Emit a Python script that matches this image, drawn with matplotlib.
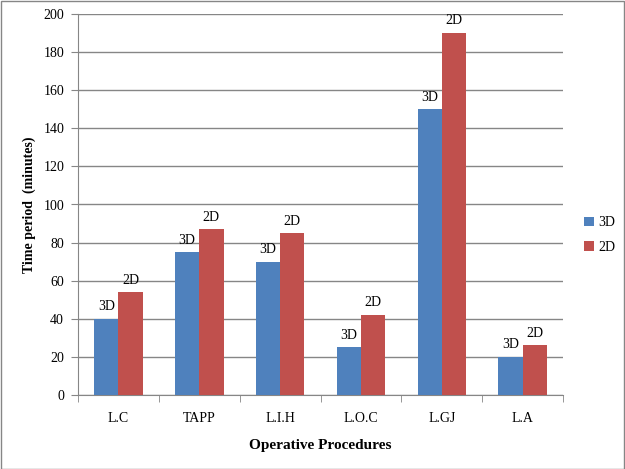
import matplotlib.pyplot as plt
import numpy as np

procedures = ["L.C", "TAPP", "L.I.H", "L.O.C", "L.GJ", "L.A"]
time_3d = [40, 75, 70, 25, 150, 20]
time_2d = [54, 87, 85, 42, 190, 26]
series_names = ["3D", "2D"]

plt.rcParams['font.family'] = ['Liberation Serif', 'DejaVu Serif']

fig = plt.figure(figsize=(6.25, 4.69), dpi=100)
ax = fig.add_axes([78 / 625, 1 - 395 / 469, (563 - 78) / 625, (395 - 14) / 469])

x = np.arange(len(procedures))
w = 0.3
grey = "#868686"
b1 = ax.bar(x - w / 2, time_3d, w, color="#4F81BD", label=series_names[0], zorder=3)
b2 = ax.bar(x + w / 2, time_2d, w, color="#C0504D", label=series_names[1], zorder=3)

for bars, name in ((b1, series_names[0]), (b2, series_names[1])):
    for r in bars:
        ax.annotate(name, (r.get_x() + r.get_width() / 2, r.get_height()),
                    xytext=(0, 4), textcoords="offset points",
                    ha="center", va="bottom", fontsize=10)

ax.set_xlim(-0.5, len(procedures) - 0.5)
ax.set_ylim(0, 200)
ax.set_yticks(range(0, 201, 20))
ax.set_xticks(x)
ax.set_xticklabels(procedures, fontsize=10)
ax.tick_params(axis="x", length=0, pad=12.5)
ax.set_xticks(np.arange(-0.5, len(procedures)), minor=True)
ax.tick_params(axis="x", which="minor", length=5, color=grey, direction="out")
ax.tick_params(axis="y", length=5, color=grey, labelsize=10, pad=5)
ax.yaxis.grid(True, color=grey, linewidth=1, zorder=0)

for s in ("top", "right"):
    ax.spines[s].set_visible(False)
for s in ("left", "bottom"):
    ax.spines[s].set_color(grey)

ax.set_ylabel("Time period  (minutes)", fontsize=10, fontweight="bold", labelpad=5)
ax.set_xlabel("Operative Procedures", fontsize=11, fontweight="bold", labelpad=10)

ax.legend(loc="center left", bbox_to_anchor=(1.018, 0.42), frameon=False,
          fontsize=10, handlelength=0.7, handleheight=0.7, handletextpad=0.3,
          labelspacing=0.8)

fig.patches.append(plt.Rectangle((0.001, 0.001), 0.997, 0.997, transform=fig.transFigure,
                                 fill=False, edgecolor=grey, linewidth=1))

fig.savefig("out.png", dpi=100)
